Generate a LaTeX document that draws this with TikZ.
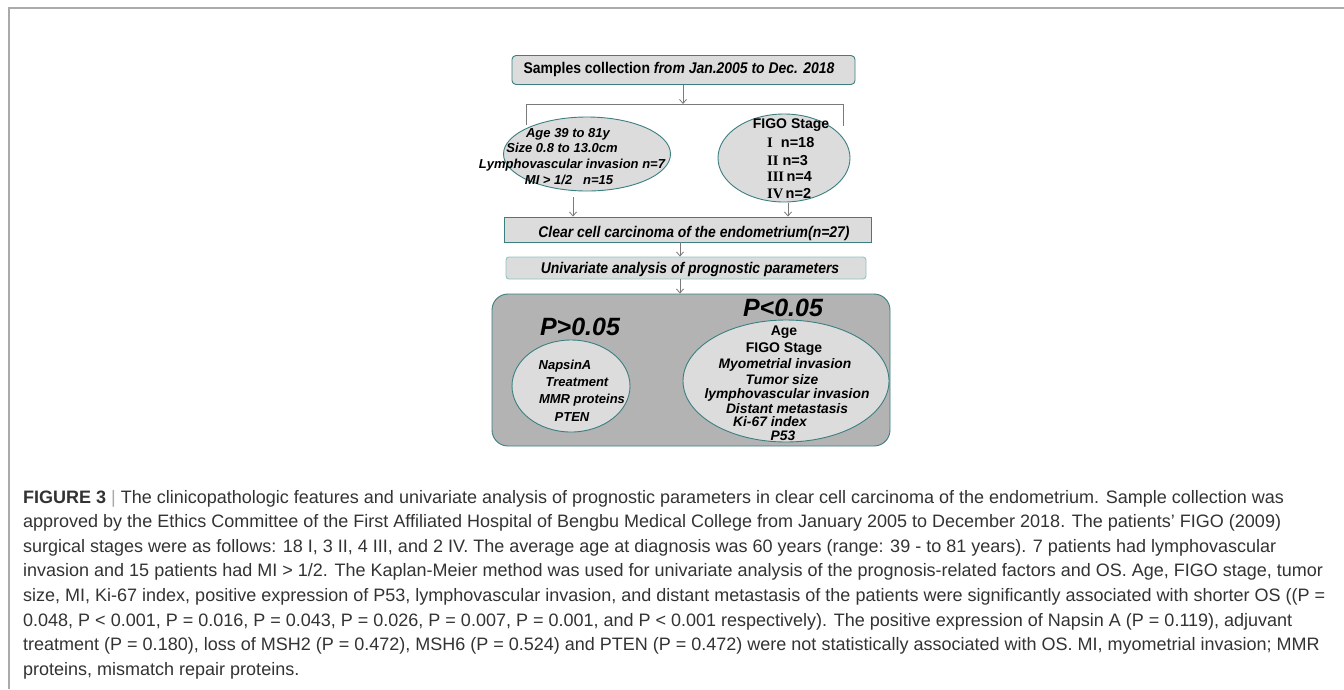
\documentclass[tikz,border=0pt]{standalone}
\usepackage{fontspec}
\setmainfont{Liberation Sans}
\newfontfamily\romfont{Liberation Serif}
\newfontfamily\dgmfont[FakeStretch=0.9]{Liberation Sans}
\usetikzlibrary{arrows.meta,shapes.geometric}
\definecolor{tealA}{HTML}{3B7F80}
\definecolor{tealB}{HTML}{8FC4C4}
\definecolor{boxfill}{HTML}{DCDCDC}
\definecolor{bigfill}{HTML}{B3B3B3}
\definecolor{arrgray}{HTML}{7A7A7A}
\definecolor{captxt}{HTML}{333333}
\definecolor{framegray}{HTML}{AAAAAA}
\newcommand{\fsz}[1]{\fontsize{#1}{#1}\selectfont}
\tikzset{
  flowbox/.style={draw=tealA, fill=boxfill, line width=0.9pt, inner sep=0pt},
  ovalbox/.style={ellipse, draw=tealA, fill=boxfill, line width=0.9pt, inner sep=0pt},
  lbl/.style={inner sep=0pt, font=\fsz{13}\bfseries\itshape},
  lblup/.style={inner sep=0pt, font=\fsz{13}\bfseries},
  innerlbl/.style={inner sep=0pt, font=\fsz{13.8}\bfseries\itshape},
  boxlbl/.style={inner sep=0pt, font=\dgmfont\fsz{15.5}\bfseries\itshape},
  flow/.style={draw=arrgray, line width=0.8pt, -{Straight Barb[length=4pt,width=7pt]}},
  brack/.style={draw=arrgray, line width=1pt},
  capline/.style={anchor=base west, inner sep=0pt, text=captxt, font=\fsz{18}},
  bigp/.style={inner sep=0pt, font=\fsz{25}\bfseries\itshape},
}
\begin{document}
\begin{tikzpicture}[x=1pt,y=-1pt]
\useasboundingbox (0,0) rectangle (1344,689);
\fill[white] (0,0) rectangle (1344,689);
\draw[framegray, line width=1.2pt] (9,689) -- (9,8) -- (1344,8);

% boxes
\node[flowbox, rounded corners=4pt, minimum width=343pt, minimum height=29pt] (top) at (683.5,70) {};
\node[boxlbl, font=\dgmfont\fsz{15.5}\bfseries] (toptxt) at (679,69) {Samples collection \textit{from Jan.2005 to Dec. 2018}};

\node[ovalbox, minimum width=167pt, minimum height=74pt] (lell) at (587,154) {};
\node[ovalbox, minimum width=132pt, minimum height=88pt] (rell) at (784,158) {};

\node[flowbox, minimum width=367pt, minimum height=25pt] (clear) at (687.5,229.5) {};
\node[boxlbl] (cleartxt) at (694,233) {Clear cell carcinoma of the endometrium(n=27)};

\node[flowbox, draw=tealB, rounded corners=3pt, minimum width=360pt, minimum height=22pt] (uni) at (686,268) {};
\node[boxlbl] (unitxt) at (690,269.5) {Univariate analysis of prognostic parameters};

\node[flowbox, fill=bigfill, rounded corners=16pt, minimum width=398pt, minimum height=152pt] (big) at (691,370) {};
\node[ovalbox, minimum width=118pt, minimum height=92pt] (ilell) at (571,386) {};
\node[ovalbox, minimum width=206pt, minimum height=122pt] (irell) at (786,381) {};

% left ellipse text
\node[lbl] (l1) at (568,134) {Age 39 to 81y};
\node[lbl] (l2) at (562,148) {Size 0.8 to 13.0cm};
\node[lbl] (l3) at (572,165) {Lymphovascular invasion n=7};
\node[lbl] (l4) at (569,180) {MI > 1/2\ \ \ n=15};

% FIGO text
\node[lblup, font=\fsz{14}\bfseries] (f0) at (791,125) {FIGO Stage};
\node[lblup, font=\fsz{14.5}\bfseries, anchor=west] (f1) at (767,143) {{\romfont I}\ \ n=18};
\node[lblup, font=\fsz{14.5}\bfseries, anchor=west] (f2) at (767,161) {{\romfont II}\ n=3};
\node[lblup, font=\fsz{14.5}\bfseries, anchor=west] (f3) at (767,177) {{\romfont III}\,n=4};
\node[lblup, font=\fsz{14.5}\bfseries, anchor=west] (f4) at (767,194) {{\romfont IV}\,n=2};

% big box texts
\node[bigp] (pgt) at (580,327) {P>0.05};
\node[bigp] (plt) at (783,308) {P<0.05};

\node[lbl] (a1) at (565,366) {NapsinA};
\node[lbl] (a2) at (577,382) {Treatment};
\node[lbl] (a3) at (582,400) {MMR proteins};
\node[lbl] (a4) at (572,417) {PTEN};

\node[lblup, font=\fsz{14}\bfseries] (b1) at (784,332) {Age};
\node[lblup, font=\fsz{14}\bfseries] (b2) at (784,349) {FIGO Stage};
\node[innerlbl] (b3) at (785,365) {Myometrial invasion};
\node[innerlbl] (b4) at (782,379.5) {Tumor size};
\node[innerlbl] (b5) at (787,394.5) {lymphovascular invasion};
\node[innerlbl] (b6) at (787,408.5) {Distant metastasis};
\node[innerlbl] (b7) at (770,422) {Ki-67 index};
\node[innerlbl] (b8) at (783,435.5) {P53};

% connectors
\coordinate (bm) at (683,104);
\coordinate (bl) at (526,104);
\coordinate (br) at (843,104);
\coordinate (blend) at (526,125);
\coordinate (brend) at (843,126);
\draw[brack] (blend) -- (bl) -- (br) -- (brend);
\draw[flow] (top.south -| bm) -- (bm);
\draw[flow] (573,197) coordinate (la) -- (la |- clear.north);
\draw[flow] (788,203) coordinate (ra) -- (ra |- clear.north);
\draw[flow] (clear.south -| 680,0) -- (uni.north -| 680,0);
\draw[flow] (uni.south -| 680,0) -- (big.north -| 680,0);

% caption
\node[capline] (c1) at (23,503) {\textbf{FIGURE 3} {\color{framegray}|} The clinicopathologic features and univariate analysis of prognostic parameters in clear cell carcinoma of the endometrium. Sample collection was};
\node[capline] (c2) at (23,527.6) {approved by the Ethics Committee of the First Affiliated Hospital of Bengbu Medical College from January 2005 to December 2018. The patients’ FIGO (2009)};
\node[capline] (c3) at (23,552.2) {surgical stages were as follows: 18 I, 3 II, 4 III, and 2 IV. The average age at diagnosis was 60 years (range: 39 - to 81 years). 7 patients had lymphovascular};
\node[capline] (c4) at (23,576.8) {invasion and 15 patients had MI > 1/2. The Kaplan-Meier method was used for univariate analysis of the prognosis-related factors and OS. Age, FIGO stage, tumor};
\node[capline] (c5) at (23,601.4) {size, MI, Ki-67 index, positive expression of P53, lymphovascular invasion, and distant metastasis of the patients were significantly associated with shorter OS ((P =};
\node[capline] (c6) at (23,626) {0.048, P < 0.001, P = 0.016, P = 0.043, P = 0.026, P = 0.007, P = 0.001, and P < 0.001 respectively). The positive expression of Napsin A (P = 0.119), adjuvant};
\node[capline] (c7) at (23,650.6) {treatment (P = 0.180), loss of MSH2 (P = 0.472), MSH6 (P = 0.524) and PTEN (P = 0.472) were not statistically associated with OS. MI, myometrial invasion; MMR};
\node[capline] (c8) at (23,675.2) {proteins, mismatch repair proteins.};
\end{tikzpicture}
\end{document}
